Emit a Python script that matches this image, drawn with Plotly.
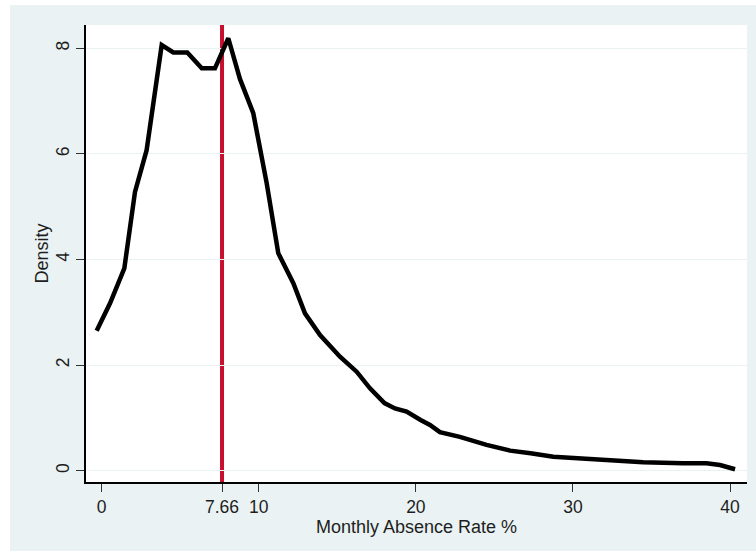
import plotly.graph_objects as go

# Kernel density of the monthly absence rate
absence_rate = [-0.32, 0.53, 1.44, 2.12, 2.86, 3.82, 4.56, 5.45, 6.37, 7.21,
                8.06, 8.8, 9.65, 10.5, 11.24, 12.2, 12.94, 13.9, 15.17, 16.23,
                17.08, 18.0, 18.67, 19.41, 20.3, 20.9, 21.53, 22.8, 24.5, 26.0,
                27.3, 28.75, 30.3, 31.93, 34.47, 37.0, 38.5, 39.36, 40.32]
density = [2.65, 3.17, 3.83, 5.28, 6.07, 8.06, 7.92, 7.92, 7.62, 7.62,
           8.19, 7.42, 6.77, 5.45, 4.12, 3.55, 2.98, 2.57, 2.16, 1.875,
           1.56, 1.28, 1.18, 1.12, 0.96, 0.865, 0.73, 0.64, 0.49, 0.38,
           0.33, 0.265, 0.235, 0.20, 0.16, 0.14, 0.14, 0.108, 0.027]

mean_rate = 7.66
x_tickvals = [0, mean_rate, 10, 20, 30, 40]
x_ticktext = ["0", "7.66", "10", "20", "30", "40"]
y_tickvals = [0, 2, 4, 6, 8]

panel = "#EAF2F3"
font_family = "Liberation Sans, Arial, sans-serif"
text_color = "#1e1e1e"

fig = go.Figure()
fig.add_trace(go.Scatter(
    x=absence_rate, y=density, mode="lines",
    line=dict(color="black", width=4.5),
    showlegend=False, hoverinfo="skip",
))

# Mean marker line
fig.add_shape(type="line", xref="x", yref="paper",
              x0=mean_rate, x1=mean_rate, y0=0, y1=1,
              line=dict(color="#C8102E", width=4), layer="between")

# White border around the graph region
fig.add_shape(type="rect", xref="paper", yref="paper",
              x0=-86 / 661, x1=-76 / 661, y0=-0.2, y1=1.1,
              fillcolor="white", line_width=0, layer="below")
fig.add_shape(type="rect", xref="paper", yref="paper",
              x0=-0.2, x1=1.1, y0=1 + 20 / 457, y1=1 + 25 / 457,
              fillcolor="white", line_width=0, layer="below")

fig.update_layout(
    width=756, height=551,
    margin=dict(l=86, r=9, t=25, b=69),
    paper_bgcolor=panel, plot_bgcolor="white",
    font=dict(family=font_family, size=18, color=text_color),
    xaxis=dict(
        range=[-0.999, 41.08],
        tickmode="array", tickvals=x_tickvals, ticktext=x_ticktext,
        ticks="outside", ticklen=8, tickcolor="#333", tickwidth=1,
        tickfont=dict(size=17.5),
        showline=True, linecolor="black", linewidth=1.5,
        showgrid=False, zeroline=False,
        title=dict(text="Monthly Absence Rate %", standoff=3,
                   font=dict(size=18)),
    ),
    yaxis=dict(
        range=[-0.214, 8.441],
        tickmode="array", tickvals=y_tickvals,
        ticks="outside", ticklen=8, tickcolor="#333", tickwidth=1,
        tickfont=dict(size=17.5), tickangle=-90,
        showline=True, linecolor="black", linewidth=1.5,
        showgrid=True, gridcolor=panel, gridwidth=1.2, zeroline=False,
        title=dict(text="Density", standoff=0, font=dict(size=18)),
    ),
)

fig.write_html("out.html")
